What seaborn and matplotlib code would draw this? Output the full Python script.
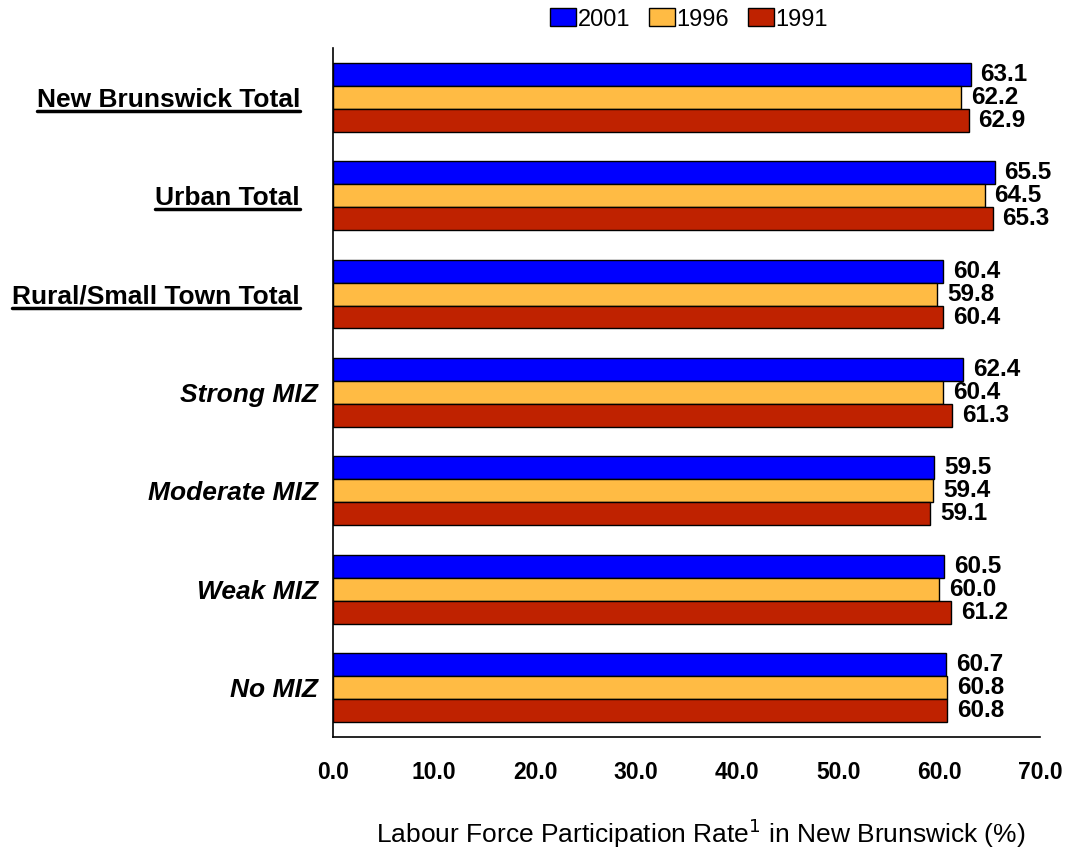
import pandas as pd
import matplotlib
matplotlib.use("Agg")
import matplotlib.pyplot as plt
from matplotlib.lines import Line2D
from matplotlib.patches import Patch
import seaborn as sns

# Données
regions = ["New Brunswick Total", "Urban Total", "Rural/Small Town Total",
           "Strong MIZ", "Moderate MIZ", "Weak MIZ", "No MIZ"]
annees = ["2001", "1996", "1991"]
taux_2001 = [63.1, 65.5, 60.4, 62.4, 59.5, 60.5, 60.7]
taux_1996 = [62.2, 64.5, 59.8, 60.4, 59.4, 60.0, 60.8]
taux_1991 = [62.9, 65.3, 60.4, 61.3, 59.1, 61.2, 60.8]
couleurs = ["#0000FF", "#FFBB44", "#BF2200"]
soulignes = ["New Brunswick Total", "Urban Total", "Rural/Small Town Total"]

df = pd.DataFrame({
    "region": regions * 3,
    "annee": [a for a in annees for _ in regions],
    "taux": taux_2001 + taux_1996 + taux_1991,
})

sns.set_style("white")
plt.rcParams["font.family"] = ["Liberation Sans", "DejaVu Sans"]
for k in ["text.color", "axes.labelcolor", "xtick.color", "ytick.color"]:
    plt.rcParams[k] = "black"
etroit = ["Liberation Sans Narrow", "Liberation Sans", "DejaVu Sans"]

fig = plt.figure(figsize=(10.68, 8.56), dpi=100)
ax = fig.add_axes([0.312, 0.139, 0.662, 0.805])

sns.barplot(data=df, y="region", x="taux", hue="annee", order=regions,
            hue_order=annees, palette=couleurs, width=0.7,
            edgecolor="black", linewidth=1, saturation=1, ax=ax, legend=False)

for cont in ax.containers:
    ax.bar_label(cont, fmt="%.1f", padding=7, fontsize=17.5, fontweight="bold")

ax.set_xlim(0, 70)
ax.set_ylim(6.5, -0.5)
ax.set_xticks(range(0, 71, 10))
ax.set_xticklabels([f"{v:.1f}" for v in range(0, 71, 10)], fontsize=16.5,
                   fontweight="bold", family=etroit)
ax.tick_params(axis="both", length=0)
ax.tick_params(axis="x", pad=17)
ax.set_ylabel("")
ax.set_xlabel("Labour Force Participation Rate$^1$ in New Brunswick (%)", fontsize=19)
ax.xaxis.set_label_coords(0.52, -0.14)
ax.xaxis.label.set_va("center")

sns.despine(ax=ax)
for s in ["left", "bottom"]:
    ax.spines[s].set_color("black")
    ax.spines[s].set_linewidth(1.2)

# Étiquettes de l'axe y : soulignées pour les totaux, italiques pour les MIZ
ticks = ax.yaxis.get_major_ticks()
for tick, lab in zip(ticks, ax.get_yticklabels()):
    lab.set_fontsize(19)
    lab.set_fontweight("bold")
    if lab.get_text() in soulignes:
        tick.set_pad(24)
    else:
        lab.set_style("italic")
        tick.set_pad(11)

# Légende en haut
handles = [Patch(facecolor=c, edgecolor="black", linewidth=1) for c in couleurs]
fig.legend(handles, annees, loc="upper center", bbox_to_anchor=(0.645, 1.015),
           ncol=3, frameon=False, fontsize=17, handlelength=1.1, handleheight=0.8,
           handletextpad=0.05, columnspacing=0.8)

# Soulignement manuel
fig.canvas.draw()
renderer = fig.canvas.get_renderer()
inv = fig.transFigure.inverted()
for lab in ax.get_yticklabels():
    if lab.get_text() in soulignes:
        bb = lab.get_window_extent(renderer)
        (x0, y0), (x1, y1) = inv.transform([(bb.x0, bb.y0 + 1), (bb.x1, bb.y0 + 1)])
        fig.add_artist(Line2D([x0, x1], [y0, y1], color="black", linewidth=2.5,
                              transform=fig.transFigure))

fig.savefig("out.png", dpi=100)
